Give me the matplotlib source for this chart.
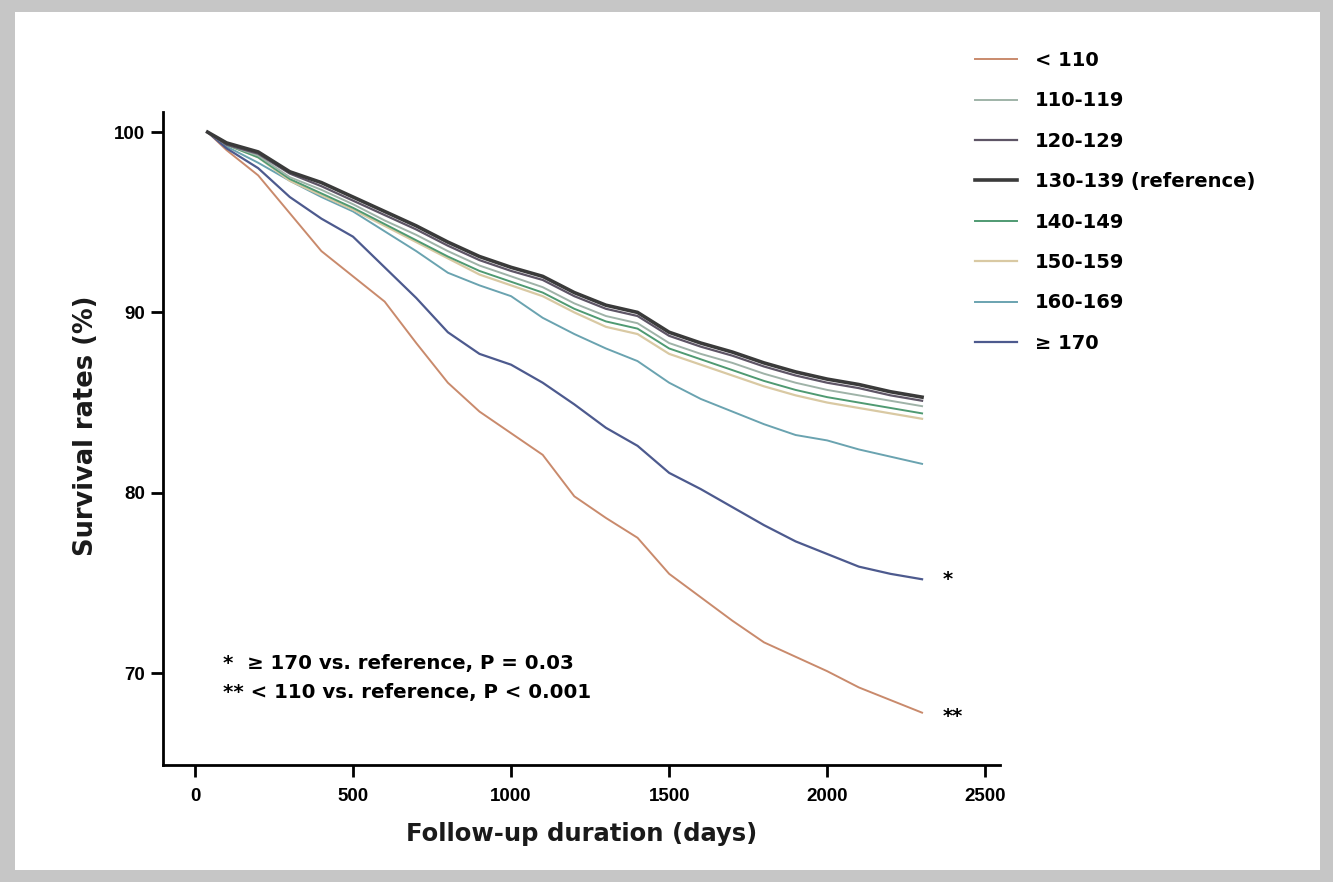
import matplotlib
matplotlib.use("Agg")
import matplotlib.pyplot as plt
from matplotlib.patches import Rectangle

# survival curves
days = [40, 100, 200, 300, 400, 500, 600, 700, 800, 900, 1000, 1100,
        1200, 1300, 1400, 1500, 1600, 1700, 1800, 1900, 2000, 2100, 2200, 2300]

s_lt110 = [100, 99.0, 97.6, 95.5, 93.4, 92.0, 90.6, 88.3, 86.1, 84.5, 83.3, 82.1,
           79.8, 78.6, 77.5, 75.5, 74.2, 72.9, 71.7, 70.9, 70.1, 69.2, 68.5, 67.8]
s_110 = [100, 99.3, 98.7, 97.5, 96.8, 96.0, 95.1, 94.3, 93.4, 92.6, 92.0, 91.4,
         90.5, 89.8, 89.4, 88.3, 87.7, 87.2, 86.6, 86.1, 85.7, 85.4, 85.1, 84.8]
s_120 = [100, 99.3, 98.8, 97.7, 97.0, 96.2, 95.4, 94.6, 93.7, 92.9, 92.3, 91.8,
         90.9, 90.2, 89.8, 88.7, 88.1, 87.6, 87.0, 86.5, 86.1, 85.8, 85.4, 85.1]
s_130 = [100, 99.4, 98.9, 97.8, 97.2, 96.4, 95.6, 94.8, 93.9, 93.1, 92.5, 92.0,
         91.1, 90.4, 90.0, 88.9, 88.3, 87.8, 87.2, 86.7, 86.3, 86.0, 85.6, 85.3]
s_140 = [100, 99.3, 98.6, 97.4, 96.6, 95.8, 94.9, 94.0, 93.1, 92.3, 91.7, 91.1,
         90.2, 89.5, 89.1, 88.0, 87.4, 86.8, 86.2, 85.7, 85.3, 85.0, 84.7, 84.4]
s_150 = [100, 99.3, 98.6, 97.3, 96.5, 95.7, 94.8, 93.9, 93.0, 92.1, 91.5, 90.9,
         90.0, 89.2, 88.8, 87.7, 87.1, 86.5, 85.9, 85.4, 85.0, 84.7, 84.4, 84.1]
s_160 = [100, 99.2, 98.3, 97.3, 96.4, 95.6, 94.5, 93.4, 92.2, 91.5, 90.9, 89.7,
         88.8, 88.0, 87.3, 86.1, 85.2, 84.5, 83.8, 83.2, 82.9, 82.4, 82.0, 81.6]
s_170 = [100, 99.1, 98.0, 96.4, 95.2, 94.2, 92.5, 90.8, 88.9, 87.7, 87.1, 86.1,
         84.9, 83.6, 82.6, 81.1, 80.2, 79.2, 78.2, 77.3, 76.6, 75.9, 75.5, 75.2]

labels = ["< 110", "110-119", "120-129", "130-139 (reference)",
          "140-149", "150-159", "160-169", "\u2265 170"]
colors = ["#c98a6c", "#9fb3a8", "#5e5566", "#3a3a3a",
          "#4f9a72", "#d9c9a3", "#6aa3b0", "#4d5a8e"]
widths = [1.4, 1.4, 1.6, 2.6, 1.4, 1.6, 1.4, 1.6]
series = [s_lt110, s_110, s_120, s_130, s_140, s_150, s_160, s_170]

plt.rcParams['font.family'] = ['DejaVu Sans']

fig = plt.figure(figsize=(13.33, 8.82), dpi=100)
fig.patch.set_facecolor("#c6c6c6")
fig.patches.append(Rectangle((0.011, 0.0136), 0.979, 0.973, transform=fig.transFigure,
                             facecolor="white", edgecolor="none", zorder=-10))

ax = fig.add_axes([0.1223, 0.1327, 0.628, 0.740])
ax.set_facecolor("white")

# draw the reference curve last so it sits on top
order = [0, 6, 7, 5, 4, 1, 2, 3]
handles = {}
for i in order:
    ln, = ax.plot(days, series[i], color=colors[i], lw=widths[i], label=labels[i])
    handles[i] = ln

ax.set_xlim(-101, 2547)
ax.set_ylim(64.9, 101.1)
ax.set_xticks([0, 500, 1000, 1500, 2000, 2500])
ax.set_yticks([70, 80, 90, 100])

for side in ["top", "right"]:
    ax.spines[side].set_visible(False)
for side in ["left", "bottom"]:
    ax.spines[side].set_linewidth(2)
ax.tick_params(axis="x", width=2, length=8.5, pad=8)
ax.tick_params(axis="y", width=2, length=9, pad=4)
for lab in ax.get_xticklabels() + ax.get_yticklabels():
    lab.set_fontweight("bold")
    lab.set_fontfamily("Liberation Sans")
    lab.set_fontsize(13.5)

ax.set_xlabel("Follow-up duration (days)", fontsize=17.5, fontweight="bold",
              labelpad=12, color="#1a1a1a")
ax.set_ylabel("Survival rates (%)", fontsize=18.5, fontweight="bold", color="#1a1a1a")
ax.yaxis.set_label_coords(-0.077, 0.52)

# significance marks
ax.text(2365, 75.2, "*", fontsize=14, fontweight="bold", va="center")
ax.text(2365, 67.6, "**", fontsize=14, fontweight="bold", va="center")
ax.text(90, 70.55, "*  \u2265 170 vs. reference, P = 0.03", fontsize=14.2,
        fontweight="bold", va="center")
ax.text(90, 68.9, "** < 110 vs. reference, P < 0.001", fontsize=14.2,
        fontweight="bold", va="center")

leg = fig.legend([handles[i] for i in range(8)], labels, loc="upper left",
                 bbox_to_anchor=(0.718, 0.962), frameon=False,
                 prop={"size": 14, "weight": "bold"},
                 handlelength=2.2, handletextpad=0.9, labelspacing=1.1)

fig.savefig("out.png", dpi=100, facecolor=fig.get_facecolor())
